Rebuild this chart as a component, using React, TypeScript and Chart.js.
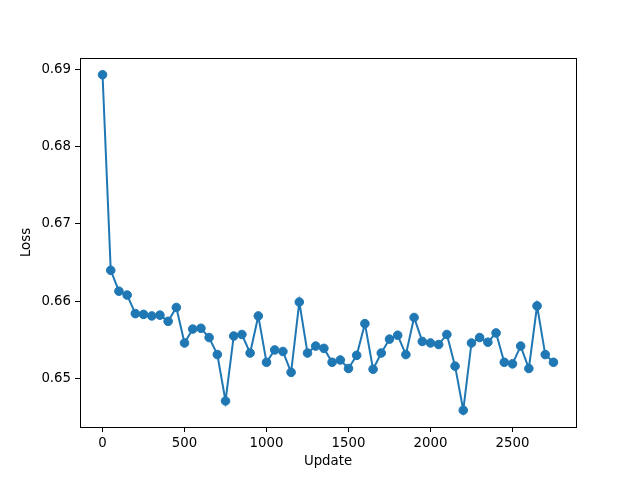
import React, { useEffect, useRef } from "react";
import { Chart, registerables } from "chart.js";

Chart.register(...registerables);

const updates = [
  0, 50, 100, 150, 200, 250, 300, 350, 400, 450, 500, 550, 600, 650, 700, 750, 800, 850, 900, 950,
  1000, 1050, 1100, 1150, 1200, 1250, 1300, 1350, 1400, 1450, 1500, 1550, 1600, 1650, 1700, 1750,
  1800, 1850, 1900, 1950, 2000, 2050, 2100, 2150, 2200, 2250, 2300, 2350, 2400, 2450, 2500, 2550,
  2600, 2650, 2700, 2750,
];
const losses = [
  0.6893, 0.664, 0.6613, 0.6608, 0.6584, 0.6583, 0.6581, 0.6582, 0.6574, 0.6592, 0.6546, 0.6564,
  0.6565, 0.6553, 0.6531, 0.6471, 0.6555, 0.6557, 0.6533, 0.6581, 0.6521, 0.6537, 0.6535, 0.6508,
  0.6599, 0.6533, 0.6542, 0.6539, 0.6521, 0.6524, 0.6513, 0.653, 0.6571, 0.6512, 0.6533, 0.6551,
  0.6556, 0.6531, 0.6579, 0.6548, 0.6546, 0.6544, 0.6557, 0.6516, 0.6459, 0.6546, 0.6553, 0.6547,
  0.6559, 0.6521, 0.6519, 0.6542, 0.6513, 0.6594, 0.6531, 0.6521,
];
const xTicks = [0, 500, 1000, 1500, 2000, 2500];
const yTicks = [0.65, 0.66, 0.67, 0.68, 0.69];
const xLabel = "Update";
const yLabel = "Loss";

const FONT = "'DejaVu Sans', sans-serif";

export default function App() {
  const ref = useRef<HTMLCanvasElement>(null);
  useEffect(() => {
    if (!ref.current) return;
    const xmin = Math.min(...updates);
    const xmax = Math.max(...updates);
    const ymin = Math.min(...losses);
    const ymax = Math.max(...losses);
    const xm = (xmax - xmin) * 0.05;
    const ym = (ymax - ymin) * 0.05;
    const frame = {
      id: "frame",
      afterDraw(chart: any) {
        const { ctx, chartArea: a } = chart;
        ctx.save();
        ctx.strokeStyle = "#000";
        ctx.lineWidth = 1;
        ctx.strokeRect(Math.round(a.left) + 0.5, Math.round(a.top) + 0.5, Math.round(a.right - a.left), Math.round(a.bottom - a.top));
        ctx.restore();
      },
    };
    const chart = new Chart(ref.current, {
      type: "scatter",
      data: {
        datasets: [
          {
            data: updates.map((u, i) => ({ x: u, y: losses[i] })),
            showLine: true,
            borderColor: "#1f77b4",
            backgroundColor: "#1f77b4",
            borderWidth: 2,
            pointRadius: 4.3,
            pointBorderWidth: 1,
            pointBorderColor: "#1f77b4",
            pointBackgroundColor: "#1f77b4",
          },
        ],
      },
      options: {
        responsive: false,
        animation: false,
        layout: { padding: { left: 0, top: 58, right: 64, bottom: 0 } },
        plugins: { legend: { display: false }, tooltip: { enabled: false } },
        scales: {
          x: {
            type: "linear",
            min: xmin - xm,
            max: xmax + xm,
            afterBuildTicks: (s: any) => {
              s.ticks = xTicks.map((v) => ({ value: v }));
            },
            afterFit: (s: any) => {
              s.height = 53;
            },
            ticks: {
              color: "#000",
              font: { family: FONT, size: 13.3 },
              padding: 4,
              maxRotation: 0,
              callback: (v: any) => String(v),
            },
            grid: { drawOnChartArea: false, drawTicks: true, tickLength: 5, color: "#000", tickWidth: 1 },
            border: { display: true, color: "#000", width: 1 },
            title: {
              display: true,
              text: xLabel,
              color: "#000",
              font: { family: FONT, size: 13.3 },
              padding: { top: 0, bottom: 10 },
            },
          },
          y: {
            type: "linear",
            min: ymin - ym,
            max: ymax + ym,
            afterBuildTicks: (s: any) => {
              s.ticks = yTicks.map((v) => ({ value: v }));
            },
            afterFit: (s: any) => {
              s.width = 80;
            },
            ticks: {
              color: "#000",
              font: { family: FONT, size: 13.3 },
              padding: 4,
              callback: (v: any) => Number(v).toFixed(2),
            },
            grid: { drawOnChartArea: false, drawTicks: true, tickLength: 5, color: "#000", tickWidth: 1 },
            border: { display: true, color: "#000", width: 1 },
            title: {
              display: true,
              text: yLabel,
              color: "#000",
              font: { family: FONT, size: 13.3 },
              padding: { top: 19, bottom: 0 },
            },
          },
        },
      },
      plugins: [frame],
    });
    return () => chart.destroy();
  }, []);
  return (
    <div style={{ position: "fixed", left: 0, top: 0, width: 640, height: 480, background: "#fff" }}>
      <canvas ref={ref} width={640} height={480} style={{ width: 640, height: 480 }} />
    </div>
  );
}
